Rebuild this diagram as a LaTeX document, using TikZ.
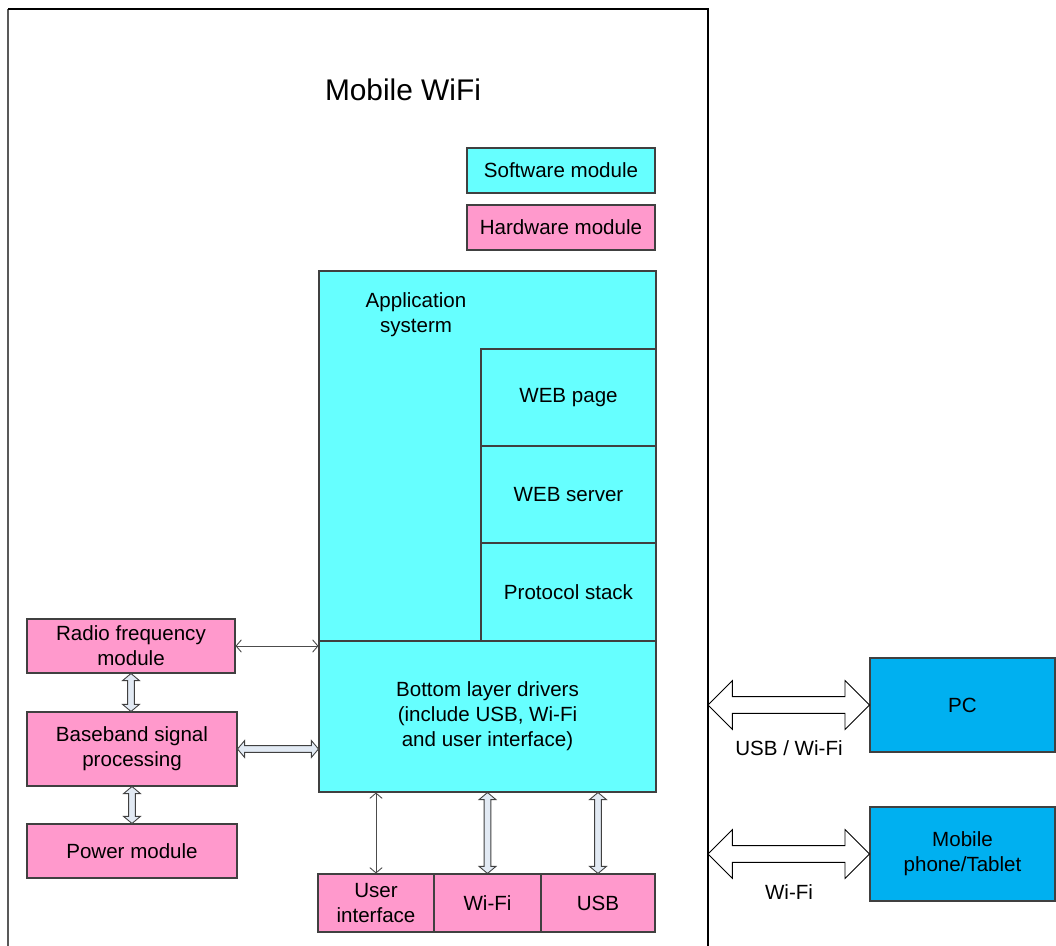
\documentclass[tikz,border=0pt]{standalone}
\usepackage{fontspec}
\setmainfont{Liberation Sans}
\usetikzlibrary{calc,positioning,shapes.arrows,arrows.meta}
\definecolor{swcol}{HTML}{66FFFF}
\definecolor{hwcol}{HTML}{FF99CC}
\definecolor{devcol}{HTML}{00B0F0}
\definecolor{arrcol}{HTML}{E2EAF4}
\definecolor{edgecol}{HTML}{404040}
\newcommand{\blockarrow}[3][]{%
  \path let \p1=(#2), \p2=(#3), \n1={veclen(\x2-\x1,\y2-\y1)},
    \n2={atan2(\y2-\y1,\x2-\x1)} in
    node[#1, minimum height=\n1, rotate=\n2] at ($(\p1)!.5!(\p2)$) {};}

\begin{document}
\begin{tikzpicture}[x=0.02cm, y=-0.02cm, font=\fontsize{11.7}{14.2}\selectfont,
  dim/.style 2 args={minimum width=#1*0.02cm, minimum height=#2*0.02cm},
  sw/.style={draw=edgecol, fill=swcol, line width=0.6pt, align=center, inner sep=0pt},
  hw/.style={draw=edgecol, fill=hwcol, line width=0.6pt, align=center, inner sep=0pt},
  dev/.style={draw=edgecol, fill=devcol, line width=0.6pt, align=center, inner sep=0pt},
  thin/.style={gray!60!black, line width=0.5pt,
    {Straight Barb[length=3pt,width=7pt]}-{Straight Barb[length=3pt,width=7pt]}},
  small/.style={double arrow, draw=edgecol, fill=arrcol, line width=0.5pt,
    inner xsep=0pt, inner ysep=1.7pt, double arrow head extend=2.85pt,
    double arrow tip angle=100},
  big/.style={double arrow, draw=black, fill=white, line width=0.5pt,
    inner xsep=0pt, inner ysep=4.55pt, double arrow head extend=9.1pt,
    double arrow tip angle=90}]
  \useasboundingbox (0,0) rectangle (1056,946);

  % frame of the device
  \draw[gray!70!black, line width=0.6pt] (8,946) -- (8,9);
  \draw[line width=0.6pt] (8,9) -- (708,9) -- (708,946);
  \coordinate (fr) at (708,0);
  \node[font=\fontsize{17}{20}\selectfont] (title) at (403,90) {Mobile WiFi};

  % legend
  \node[sw, dim={188}{45}] (swleg) at (561,170.5) {Software module};
  \node[hw, dim={188}{45}] (hwleg) at (561,227.5) {Hardware module};

  % software
  \node[sw, dim={337}{370}] (app) at (487.5,456) {};
  \node[align=center] (applbl) at (416,315) {Application\\systerm};
  \node[sw, dim={175}{97}] (web) at (568.5,397.5) {WEB page};
  \node[sw, dim={175}{97}] (srv) at (568.5,494.5) {WEB server};
  \node[sw, dim={175}{98}] (stack) at (568.5,592) {Protocol stack};
  \node[sw, dim={337}{151}] (drv) at (487.5,716.5)
    {Bottom layer drivers\\(include USB, Wi-Fi\\and user interface)};

  % hardware
  \node[hw, dim={208}{54}] (rf) at (131,646) {Radio frequency\\module};
  \node[hw, dim={210}{74}] (bb) at (132,749) {Baseband signal\\processing};
  \node[hw, dim={210}{54}] (pwr) at (132,851) {Power module};
  \node[hw, dim={116}{58}] (ui) at (376,903) {User\\interface};
  \node[hw, dim={107}{58}] (wifi) at (487.5,903) {Wi-Fi};
  \node[hw, dim={114}{58}] (usb) at (598,903) {USB};

  % devices
  \node[dev, dim={185}{94}] (pc) at (962.5,705) {PC};
  \node[dev, dim={185}{94}] (mob) at (962.5,854) {Mobile\\phone/Tablet};

  % connections
  \draw[thin] (rf.east) -- (drv.west |- rf.east);
  \draw[thin] (drv.south -| ui.north) -- (ui.north);
  \blockarrow[small]{rf.south}{rf.south |- bb.north}
  \blockarrow[small]{bb.south}{bb.south |- pwr.north}
  \blockarrow[small]{bb.east}{drv.west |- bb.east}
  \blockarrow[small]{drv.south -| wifi.north}{wifi.north}
  \blockarrow[small]{drv.south -| usb.north}{usb.north}
  \blockarrow[big]{fr |- pc.west}{pc.west}
  \blockarrow[big]{fr |- mob.west}{mob.west}
  \node (pclbl) at (789,748) {USB / Wi-Fi};
  \node (moblbl) at (789,892) {Wi-Fi};
\end{tikzpicture}
\end{document}
